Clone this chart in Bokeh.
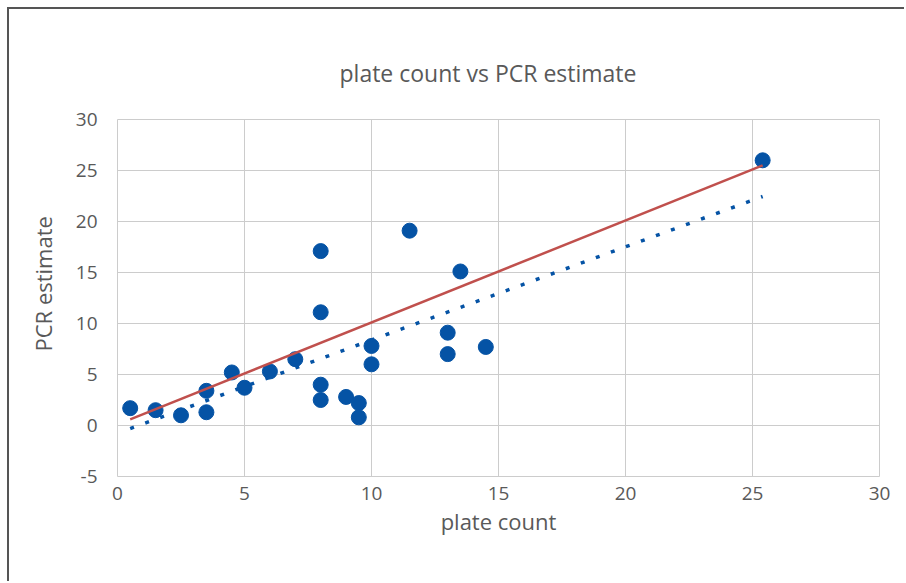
from bokeh.plotting import figure
from bokeh.models import Title, Range1d, FixedTicker, ColumnDataSource
from bokeh.embed import file_html
from bokeh.resources import INLINE

# ---- data ----
plate_count = [0.5, 1.5, 2.5, 3.5, 3.5, 4.5, 5, 6, 7, 8, 8, 8, 8, 9, 9.5, 9.5,
               10, 10, 11.5, 13, 13, 13.5, 14.5, 25.4]
pcr_estimate = [1.7, 1.5, 1.0, 3.4, 1.3, 5.2, 3.7, 5.3, 6.5, 17.1, 11.1, 4.0, 2.5,
                2.8, 2.2, 0.8, 7.8, 6.0, 19.1, 9.1, 7.0, 15.1, 7.7, 26.0]

# 1:1 reference line (red)
ref_x = [0.5, 25.4]
ref_y = [0.6, 25.5]

# linear trendline (dotted blue), endpoints
trend_x = [0.5, 25.4]
trend_y = [-0.3, 22.45]

x_ticks = [0, 5, 10, 15, 20, 25, 30]
y_ticks = [-5, 0, 5, 10, 15, 20, 25, 30]

title_text = "plate count vs PCR estimate"
x_title = "plate count"
y_title = "PCR estimate"

TEXT = "#595959"
GRID = "#cccccc"
BLUE = "#0553A5"
RED = "#C0504D"
FONT = "Open Sans"

p = figure(width=897, height=574, output_backend="svg", toolbar_location=None,
           x_range=Range1d(0, 30), y_range=Range1d(-5, 30),
           min_border_left=108, min_border_right=27,
           min_border_top=110, min_border_bottom=107)
p.styles = {"border-top": "2px solid #555555", "border-left": "2px solid #555555",
            "margin-top": "7px", "margin-left": "7px"}
p.background_fill_color = "white"
p.border_fill_color = "white"
p.outline_line_color = GRID
p.outline_line_width = 1

p.title.text = title_text
p.title.align = "left"
p.title.offset = 222
p.title.text_font = FONT
p.title.text_font_size = "23px"
p.title.text_font_style = "normal"
p.title.text_color = TEXT
p.title.standoff = 62

for ax in (p.xaxis[0], p.yaxis[0]):
    ax.axis_line_color = None
    ax.major_tick_line_color = None
    ax.minor_tick_line_color = None
    ax.major_tick_out = 0
    ax.major_label_text_color = TEXT
    ax.major_label_text_font = FONT
    ax.major_label_text_font_size = "19px"
    ax.axis_label_text_color = TEXT
    ax.axis_label_text_font = FONT
    ax.axis_label_text_font_size = "22px"
    ax.axis_label_text_font_style = "normal"

p.xaxis[0].ticker = FixedTicker(ticks=x_ticks)
p.yaxis[0].ticker = FixedTicker(ticks=y_ticks)
p.yaxis[0].major_label_overrides = {-5: "-5"}
p.xaxis[0].major_label_standoff = 10
p.yaxis[0].major_label_standoff = 20
p.xaxis[0].axis_label = x_title
p.xaxis[0].axis_label_standoff = 3

p.xgrid[0].ticker = FixedTicker(ticks=x_ticks)
p.ygrid[0].ticker = FixedTicker(ticks=y_ticks)
for g in (p.xgrid[0], p.ygrid[0]):
    g.grid_line_color = GRID
    g.grid_line_width = 1

src = ColumnDataSource(dict(x=plate_count, y=pcr_estimate))
p.scatter("x", "y", source=src, size=15, fill_color=BLUE, line_color=BLUE)

p.line(trend_x, trend_y, line_color=BLUE, line_width=3.5, line_dash="4 12",
       line_cap="butt")
p.line(ref_x, ref_y, line_color=RED, line_width=2.5)

# y-axis title as a side title (allows shifting it off the frame centre)
p.add_layout(Title(text=y_title, align="left", offset=125, standoff=29,
                   text_font=FONT, text_font_size="22px",
                   text_font_style="normal", text_color=TEXT), "left")

open("out.html", "w").write(file_html(p, INLINE))
